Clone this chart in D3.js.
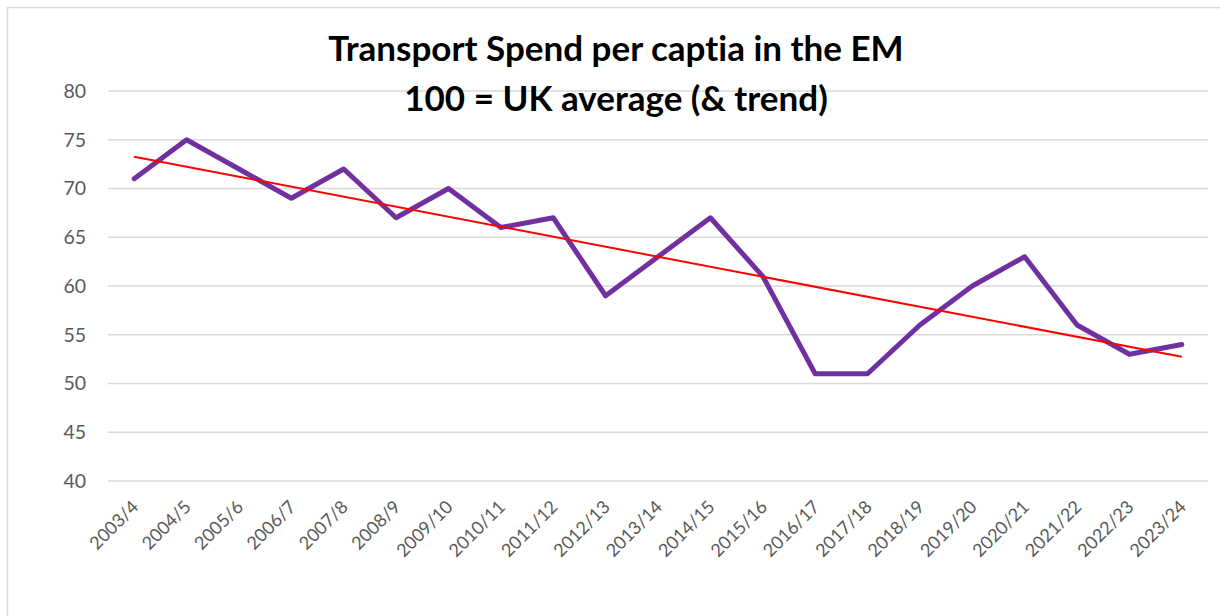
<!DOCTYPE html>
<html>
<head>
<meta charset="utf-8">
<script src="https://cdn.jsdelivr.net/npm/d3@7"></script>
<style>
  body { margin: 0; background: #fff; }
  svg { display: block; font-family: Lato, "Open Sans", sans-serif; }
  .title { font-weight: bold; font-size: 35px; fill: #000; font-variant-ligatures: none; }
  .axis text { fill: #595959; }
</style>
</head>
<body>
<svg id="chart"></svg>
<script>
// chart data
var years = ["2003/4","2004/5","2005/6","2006/7","2007/8","2008/9","2009/10","2010/11",
             "2011/12","2012/13","2013/14","2014/15","2015/16","2016/17","2017/18",
             "2018/19","2019/20","2020/21","2021/22","2022/23","2023/24"]
var spend = [71,75,72,69,72,67,70,66,67,59,63,67,61,51,51,56,60,63,56,53,54]
var yTicks = [40,45,50,55,60,65,70,75,80]
var titleLines = ["Transport Spend per captia in the EM", "100 = UK average (& trend)"]

var screen = {width:1220, height:616}
var margins = {left:108, right:12, top:91, bottom:135}
var graph = {
    width: screen.width - margins.left - margins.right,
    height: screen.height - margins.top - margins.bottom
}

var svg = d3.select("#chart")
    .attr("width", screen.width)
    .attr("height", screen.height)

// chart border (right and bottom edges fall outside the picture)
svg.append("rect")
    .attr("x", 7.5).attr("y", 7.5)
    .attr("width", 1300).attr("height", 700)
    .attr("fill", "none")
    .attr("stroke", "#d9d9d9")
    .attr("stroke-width", 1.5)

var xScale = d3.scalePoint()
    .domain(years)
    .range([0, graph.width])
    .padding(0.5)

var yScale = d3.scaleLinear()
    .domain([40, 80])
    .range([390, 0])

var target = svg.append("g")
    .attr("transform", "translate(" + margins.left + "," + margins.top + ")")

// gridlines
target.selectAll("line.grid")
    .data(yTicks)
    .enter()
    .append("line")
    .attr("class", "grid")
    .attr("x1", 0)
    .attr("x2", graph.width)
    .attr("y1", function(d){ return yScale(d) })
    .attr("y2", function(d){ return yScale(d) })
    .attr("stroke", "#d9d9d9")
    .attr("stroke-width", 1.5)

// y axis labels
var yAxis = d3.axisLeft(yScale).tickValues(yTicks).tickSize(0).tickPadding(22)
target.append("g")
    .attr("class", "axis")
    .call(yAxis)
    .call(function(g){ g.select(".domain").remove() })
    .selectAll("text")
    .style("font-size", "19.5px")
    .style("font-family", "Lato, 'Open Sans', sans-serif")

// x axis labels
var xAxis = d3.axisBottom(xScale).tickSize(0).tickPadding(0)
target.append("g")
    .attr("class", "axis")
    .attr("transform", "translate(0," + yScale(40) + ")")
    .call(xAxis)
    .call(function(g){ g.select(".domain").remove() })
    .selectAll("text")
    .style("font-size", "18px")
    .style("font-family", "Lato, 'Open Sans', sans-serif")
    .attr("text-anchor", "end")
    .attr("dy", null)
    .attr("transform", "translate(5,27) rotate(-45)")

// trend line (least squares)
var n = spend.length
var xMean = d3.mean(d3.range(n))
var yMean = d3.mean(spend)
var slope = d3.sum(spend, function(v, i){ return (i - xMean) * (v - yMean) }) /
            d3.sum(d3.range(n), function(i){ return (i - xMean) * (i - xMean) })
var intercept = yMean - slope * xMean

var line = d3.line()
    .x(function(d){ return xScale(d.year) })
    .y(function(d){ return yScale(d.value) })

target.append("path")
    .datum(years.map(function(y, i){ return {year:y, value:spend[i]} }))
    .attr("d", line)
    .attr("fill", "none")
    .attr("stroke", "#7030a0")
    .attr("stroke-width", 5)
    .attr("stroke-linejoin", "round")
    .attr("stroke-linecap", "round")

target.append("path")
    .datum([{year:years[0], value:intercept}, {year:years[n-1], value:intercept + slope*(n-1)}])
    .attr("d", line)
    .attr("fill", "none")
    .attr("stroke", "#ff0000")
    .attr("stroke-width", 2)

// title
svg.selectAll("text.title")
    .data(titleLines)
    .enter()
    .append("text")
    .attr("class", "title")
    .attr("text-anchor", "middle")
    .attr("x", 616)
    .attr("y", function(d, i){ return 61 + i * 50 })
    .text(function(d){ return d })
</script>
</body>
</html>
